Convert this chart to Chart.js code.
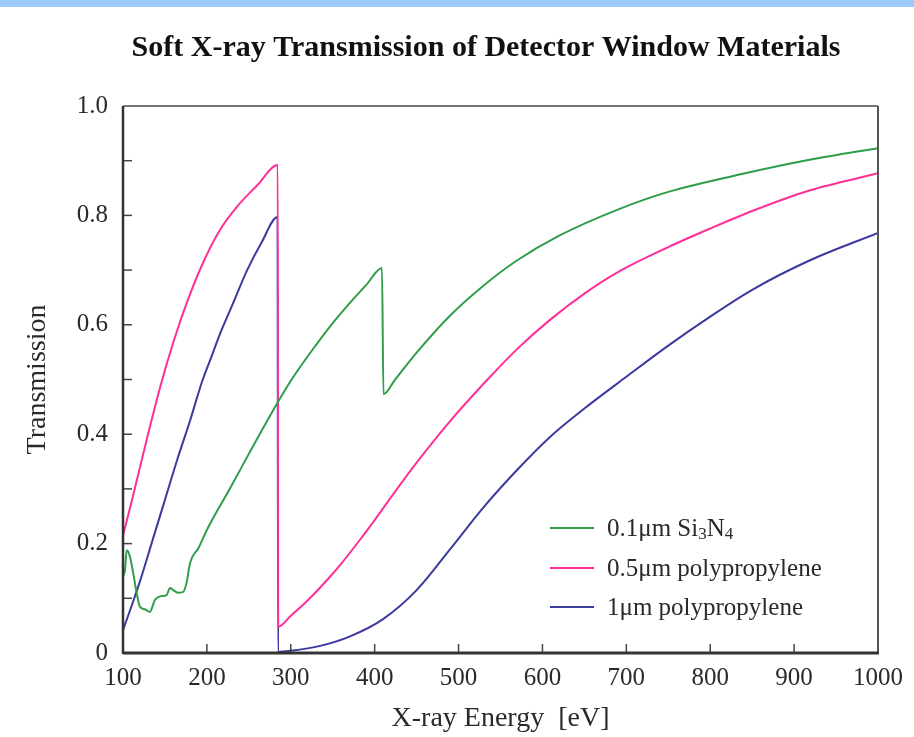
<!DOCTYPE html>
<html>
<head>
<meta charset="utf-8">
<title>Soft X-ray Transmission of Detector Window Materials</title>
<script src="https://cdn.jsdelivr.net/npm/chart.js@4.4.0/dist/chart.umd.min.js"></script>
<style>
    html, body { margin: 0; padding: 0; background: #fff; }
    #wrap { width: 914px; height: 737px; position: relative; }
</style>
</head>
<body>
<div id="wrap"><canvas id="chart" width="914" height="737"></canvas></div>
<script>
"use strict";

// --- data ---
const siEnergy = [100, 102.4, 104.4, 108.3, 116.3, 120, 126, 132, 138, 145, 152, 156, 160, 166, 172, 176, 180, 190, 200, 228, 250, 284, 301, 330, 350, 371, 390, 408.7, 410.5, 424, 450, 490, 530, 570, 620, 692, 750, 839, 920, 1000];
const siTrans  = [0.14, 0.152, 0.188, 0.176, 0.11, 0.085, 0.08, 0.075, 0.097, 0.104, 0.106, 0.119, 0.115, 0.11, 0.112, 0.13, 0.165, 0.192, 0.225, 0.302, 0.364, 0.457, 0.50, 0.563, 0.603, 0.641, 0.673, 0.704, 0.473, 0.499, 0.549, 0.617, 0.672, 0.718, 0.763, 0.812, 0.843, 0.876, 0.902, 0.923];

const pp05Energy = [100, 110, 120, 132, 145, 160, 176, 195, 215, 236, 260, 284.5, 285, 300, 320, 340, 360, 380, 400, 422, 450, 490, 534, 570, 609, 650, 692, 750, 800, 850, 919, 1000];
const pp05Trans  = [0.215, 0.275, 0.338, 0.413, 0.49, 0.568, 0.64, 0.712, 0.772, 0.816, 0.855, 0.892, 0.048, 0.068, 0.096, 0.128, 0.163, 0.202, 0.243, 0.29, 0.348, 0.424, 0.499, 0.556, 0.609, 0.657, 0.698, 0.742, 0.776, 0.808, 0.846, 0.877];

const pp1Energy = [100, 110, 120, 135, 150, 165, 180, 194, 205, 216, 230, 248, 265, 284.3, 284.8, 300, 335, 370, 410, 450, 490, 529, 570, 609, 650, 700, 750, 800, 850, 919, 1000];
const pp1Trans  = [0.042, 0.085, 0.13, 0.205, 0.28, 0.355, 0.425, 0.495, 0.54, 0.585, 0.635, 0.70, 0.75, 0.797, 0.002, 0.004, 0.013, 0.03, 0.062, 0.115, 0.19, 0.265, 0.335, 0.395, 0.447, 0.505, 0.562, 0.615, 0.664, 0.718, 0.768];

const seriesLabels = ["0.1\u03bcm Si\u2083N\u2084", "0.5\u03bcm polypropylene", "1\u03bcm polypropylene"];
const seriesColors = ["#2f9e4a", "#ff2f97", "#3b3a9e"];
const xTicks = { min: 100, max: 1000, step: 100 };
const yTicks = { min: 0, max: 1, step: 0.1 };

const SERIF = "'Liberation Serif', 'Times New Roman', serif";
const TEXT = "#2a2a2a";

const toPoints = (xs, ys) => xs.map((x, i) => ({ x: x, y: ys[i] }));

// title, top band, frame, inner ticks and legend
const decorations = {
    id: "decorations",
    beforeDraw(chart) {
        const { ctx, width } = chart;
        ctx.save();
        ctx.fillStyle = "#9ccbfb";
        ctx.fillRect(0, 0, width, 7);
        ctx.fillStyle = "#111";
        ctx.font = `bold 30px ${SERIF}`;
        ctx.textAlign = "center";
        ctx.textBaseline = "alphabetic";
        ctx.fillText("Soft X-ray Transmission of Detector Window Materials", 486, 56);
        ctx.restore();
    },
    afterDatasetsDraw(chart) {
        const { ctx, chartArea: a, scales: { x, y } } = chart;
        const line = (x1, y1, x2, y2) => { ctx.beginPath(); ctx.moveTo(x1, y1); ctx.lineTo(x2, y2); ctx.stroke(); };
        ctx.save();
        ctx.strokeStyle = "#444";
        ctx.lineWidth = 1.5;
        y.ticks.forEach(t => {
            if (t.value <= yTicks.min || t.value >= yTicks.max) return;
            const py = y.getPixelForValue(t.value);
            line(a.left, py, a.left + 9, py);
        });
        x.ticks.forEach(t => {
            if (t.value <= xTicks.min || t.value >= xTicks.max) return;
            const px = x.getPixelForValue(t.value);
            line(px, a.bottom, px, a.bottom - 9);
        });
        // frame
        ctx.strokeStyle = "#777"; ctx.lineWidth = 2;
        line(a.left, a.top, a.right, a.top);
        ctx.strokeStyle = "#555";
        line(a.right, a.top, a.right, a.bottom);
        ctx.strokeStyle = "#333"; ctx.lineWidth = 2.5;
        line(a.left, a.top, a.left, a.bottom + 1);
        ctx.lineWidth = 3;
        line(a.left, a.bottom, a.right + 1, a.bottom);

        // legend
        const rows = [528, 568, 607];
        chart.data.datasets.forEach((ds, i) => {
            const ry = rows[i];
            ctx.strokeStyle = ds.borderColor;
            ctx.lineWidth = 2;
            line(550, ry, 594, ry);
            drawLabel(ctx, ds.label, 607, ry + 1);
        });
        ctx.restore();
    }
};

// draws a label, turning unicode subscript digits into small lowered digits
function drawLabel(ctx, text, x, y) {
    const subs = "\u2080\u2081\u2082\u2083\u2084\u2085\u2086\u2087\u2088\u2089";
    ctx.fillStyle = TEXT;
    ctx.textAlign = "left";
    ctx.textBaseline = "middle";
    let cx = x;
    for (const ch of text) {
        const k = subs.indexOf(ch);
        if (k >= 0) {
            ctx.font = `17px ${SERIF}`;
            ctx.fillText(String(k), cx, y + 6);
            cx += ctx.measureText(String(k)).width;
        } else {
            ctx.font = `25px ${SERIF}`;
            ctx.fillText(ch, cx, y);
            cx += ctx.measureText(ch).width;
        }
    }
}

const makeDataset = (i, xs, ys) => ({
    label: seriesLabels[i],
    data: toPoints(xs, ys),
    showLine: true,
    borderColor: seriesColors[i],
    backgroundColor: seriesColors[i],
    borderWidth: 2,
    pointRadius: 0,
    cubicInterpolationMode: "monotone",
    fill: false
});

const ctx = document.getElementById("chart").getContext("2d");
new Chart(ctx, {
    type: "scatter",
    data: {
        datasets: [
            makeDataset(0, siEnergy, siTrans),
            makeDataset(1, pp05Energy, pp05Trans),
            makeDataset(2, pp1Energy, pp1Trans)
        ]
    },
    options: {
        responsive: false,
        animation: false,
        events: [],
        layout: { padding: { top: 106, right: 36, left: 0, bottom: 0 } },
        plugins: { legend: { display: false }, tooltip: { enabled: false }, title: { display: false } },
        scales: {
            x: {
                type: "linear",
                min: xTicks.min, max: xTicks.max,
                ticks: { stepSize: xTicks.step, color: TEXT, font: { family: SERIF, size: 25 }, padding: 10, maxRotation: 0, callback: v => String(v) },
                grid: { display: false, drawTicks: false },
                border: { display: false },
                title: { display: true, text: "X-ray Energy  [eV]", color: TEXT, font: { family: SERIF, size: 28 }, padding: { top: 0, bottom: 2 } },
                afterFit: scale => { scale.height = 84; }
            },
            y: {
                type: "linear",
                min: yTicks.min, max: yTicks.max,
                ticks: {
                    stepSize: yTicks.step, color: TEXT, font: { family: SERIF, size: 25 }, padding: 15,
                    callback: v => {
                        const r = Math.round(v * 10);
                        if (r % 2) return "";
                        return r === 0 ? "0" : (r / 10).toFixed(1);
                    }
                },
                grid: { display: false, drawTicks: false },
                border: { display: false },
                title: { display: true, text: "Transmission", color: TEXT, font: { family: SERIF, size: 28 }, padding: { top: 21, bottom: 0 } },
                afterFit: scale => { scale.width = 123; }
            }
        }
    },
    plugins: [decorations]
});
</script>
</body>
</html>
